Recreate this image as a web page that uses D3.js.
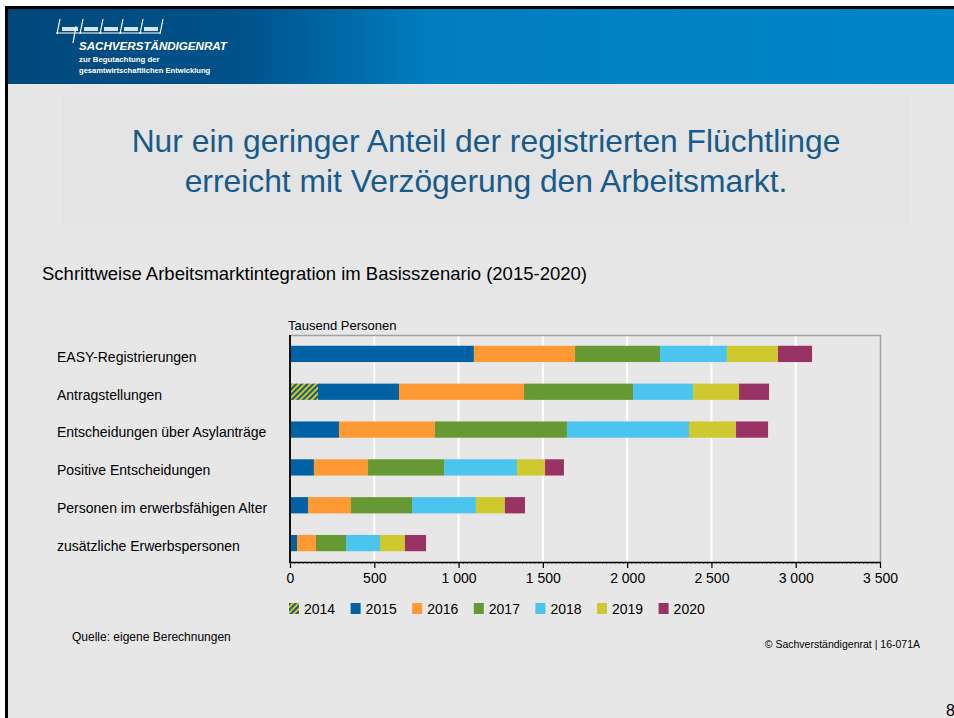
<!DOCTYPE html>
<html>
<head>
<meta charset="utf-8">
<script src="https://cdn.jsdelivr.net/npm/d3@7"></script>
<style>
  html, body { margin: 0; padding: 0; background: #ffffff; }
  svg { display: block; }
</style>
</head>
<body>
<svg id="slide" width="954" height="718"></svg>
<script>
// data (Tausend Personen)
const categories = [
  "EASY-Registrierungen",
  "Antragstellungen",
  "Entscheidungen über Asylanträge",
  "Positive Entscheidungen",
  "Personen im erwerbsfähigen Alter",
  "zusätzliche Erwerbspersonen"
];
const years = ["2014", "2015", "2016", "2017", "2018", "2019", "2020"];
const v2014 = [0, 166, 0, 0, 0, 0];
const v2015 = [1091, 481, 291, 142, 107, 42];
const v2016 = [600, 741, 569, 321, 255, 112];
const v2017 = [504, 647, 783, 451, 362, 178];
const v2018 = [397, 356, 724, 433, 379, 202];
const v2019 = [303, 273, 279, 166, 172, 148];
const v2020 = [202, 178, 190, 112, 119, 125];
const xTicks = [0, 500, 1000, 1500, 2000, 2500, 3000, 3500];

const colors = {
  "2014": "url(#hatch)", "2015": "#0062a5", "2016": "#ff9933", "2017": "#669933",
  "2018": "#4cc4f0", "2019": "#cdc92f", "2020": "#993366"
};

const series = [v2014, v2015, v2016, v2017, v2018, v2019, v2020];
const rows = categories.map((c, i) => {
  const r = { cat: c };
  years.forEach((y, j) => r[y] = series[j][i]);
  return r;
});

const svg = d3.select("#slide");
const narrow = "'Liberation Sans Narrow', 'Arial Narrow', 'Liberation Sans', sans-serif";
const sans = "'Liberation Sans', Arial, sans-serif";

const defs = svg.append("defs");
const grad = defs.append("linearGradient").attr("id", "hdr").attr("x1", 0).attr("x2", 1);
grad.append("stop").attr("offset", "0%").attr("stop-color", "#00487a");
grad.append("stop").attr("offset", "25%").attr("stop-color", "#00528b");
grad.append("stop").attr("offset", "45%").attr("stop-color", "#007fc0");
grad.append("stop").attr("offset", "100%").attr("stop-color", "#0085c8");

const pat = defs.append("pattern").attr("id", "hatch")
  .attr("patternUnits", "userSpaceOnUse").attr("width", 4).attr("height", 4)
  .attr("patternTransform", "rotate(45)");
pat.append("rect").attr("width", 4).attr("height", 4).attr("fill", "#e8c000");
pat.append("rect").attr("width", 2).attr("height", 4).attr("fill", "#0062a5");

// slide background + frame
svg.append("rect").attr("x", 5).attr("y", 6).attr("width", 949).attr("height", 712).attr("fill", "#000");
svg.append("rect").attr("x", 8).attr("y", 9).attr("width", 946).attr("height", 709).attr("fill", "#e7e7e7");
svg.append("rect").attr("x", 8).attr("y", 9).attr("width", 946).attr("height", 75).attr("fill", "url(#hdr)");
svg.append("rect").attr("x", 62).attr("y", 96).attr("width", 848).attr("height", 127).attr("fill", "#e4e4e4");

// logo
const logo = svg.append("g").attr("stroke", "#fff").attr("fill", "none").attr("stroke-width", 1.2);
logo.append("line").attr("x1", 56).attr("x2", 160).attr("y1", 33).attr("y2", 33);
[57, 80, 100, 120, 140, 160].forEach(x => {
  logo.append("line").attr("x1", x + 3).attr("y1", 19).attr("x2", x).attr("y2", 34);
});
logo.append("line").attr("x1", 76).attr("y1", 26).attr("x2", 73).attr("y2", 43);
[[62, 78], [84, 98], [104, 118], [124, 138], [144, 158]].forEach(([a, b]) => {
  logo.append("rect").attr("x", a).attr("y", 27).attr("width", b - a).attr("height", 4)
    .attr("fill", "#fff").attr("stroke", "none").attr("opacity", 0.85);
});
svg.append("text").attr("x", 79).attr("y", 50).text("SACHVERSTÄNDIGENRAT")
  .attr("fill", "#fff").attr("font-family", sans).attr("font-weight", "bold")
  .attr("font-style", "italic").attr("font-size", 11.6);
svg.append("text").attr("x", 79).attr("y", 62).text("zur Begutachtung der")
  .attr("fill", "#fff").attr("font-family", narrow).attr("font-weight", "bold").attr("font-size", 7.8);
svg.append("text").attr("x", 79).attr("y", 73).text("gesamtwirtschaftlichen Entwicklung")
  .attr("fill", "#fff").attr("font-family", narrow).attr("font-weight", "bold").attr("font-size", 7.6);

// title
const title = svg.append("text").attr("text-anchor", "middle")
  .attr("font-family", sans).attr("font-size", 31.8).attr("fill", "#175a8b");
title.append("tspan").attr("x", 486).attr("y", 152).text("Nur ein geringer Anteil der registrierten Flüchtlinge");
title.append("tspan").attr("x", 486).attr("y", 192).text("erreicht mit Verzögerung den Arbeitsmarkt.");

svg.append("text").attr("x", 42).attr("y", 280)
  .attr("font-family", narrow).attr("font-size", 18.5).attr("fill", "#000")
  .text("Schrittweise Arbeitsmarktintegration im Basisszenario (2015-2020)");

// chart
const x = d3.scaleLinear().domain([0, 3500]).range([290, 880]);
const y = d3.scaleBand().domain(categories).range([335, 562]).paddingInner(0.57).paddingOuter(0.285);
const fmt = d3.formatLocale({ decimal: ",", thousands: " ", grouping: [3], currency: ["", "€"] }).format(",d");

svg.append("text").attr("x", 288).attr("y", 330)
  .attr("font-family", narrow).attr("font-size", 13).attr("fill", "#000").text("Tausend Personen");

svg.append("g").selectAll("line").data(xTicks.slice(1, -1)).join("line")
  .attr("x1", d => x(d)).attr("x2", d => x(d)).attr("y1", 335).attr("y2", 562)
  .attr("stroke", "#ffffff").attr("stroke-width", 2);

svg.append("path").attr("d", `M290,335.5H880.5V562`).attr("fill", "none")
  .attr("stroke", "#a0a0a0").attr("stroke-width", 1.5);

const stacked = d3.stack().keys(years)(rows);
svg.append("g").selectAll("g").data(stacked).join("g")
  .attr("fill", d => colors[d.key])
  .selectAll("rect").data(d => d).join("rect")
  .attr("x", d => x(d[0])).attr("width", d => x(d[1]) - x(d[0]))
  .attr("y", d => y(d.data.cat)).attr("height", y.bandwidth());

// category labels
svg.append("g").selectAll("text").data(categories).join("text")
  .attr("x", 57).attr("y", d => y(d) + y.bandwidth() / 2 + 3).attr("dy", "0.35em")
  .attr("font-family", sans).attr("font-size", 14).attr("fill", "#000").text(d => d);

// x axis
const minor = d3.range(0, 3501, 25);
svg.append("g").attr("transform", "translate(0,562)")
  .call(d3.axisBottom(x).tickValues(minor).tickSize(2).tickFormat(""))
  .call(g => g.select(".domain").remove())
  .call(g => g.selectAll("line").attr("stroke", "#000").attr("stroke-width", 0.6));
const xAxis = svg.append("g").attr("transform", "translate(0,562)")
  .call(d3.axisBottom(x).tickValues(xTicks).tickSize(6).tickSizeOuter(0).tickPadding(5).tickFormat(fmt));
xAxis.select(".domain").attr("stroke", "#000").attr("stroke-width", 1.5);
xAxis.selectAll("line").attr("stroke", "#000").attr("stroke-width", 1.2);
xAxis.selectAll("text").attr("font-family", narrow).attr("font-size", 14).attr("fill", "#000");

svg.append("line").attr("x1", 290).attr("x2", 290).attr("y1", 335).attr("y2", 563)
  .attr("stroke", "#111").attr("stroke-width", 2);

// legend
const leg = svg.append("g").selectAll("g").data(years).join("g")
  .attr("transform", (d, i) => `translate(${289 + i * 61.6},603)`);
leg.append("rect").attr("width", 10).attr("height", 11).attr("fill", d => colors[d]);
leg.append("text").attr("x", 15).attr("y", 10.5)
  .attr("font-family", sans).attr("font-size", 14).attr("fill", "#000").text(d => d);

// footer
svg.append("text").attr("x", 72).attr("y", 641)
  .attr("font-family", narrow).attr("font-size", 12).attr("fill", "#000").text("Quelle: eigene Berechnungen");
svg.append("text").attr("x", 920).attr("y", 648).attr("text-anchor", "end")
  .attr("font-family", narrow).attr("font-size", 10.5).attr("fill", "#000").text("© Sachverständigenrat | 16-071A");
svg.append("text").attr("x", 946).attr("y", 716)
  .attr("font-family", sans).attr("font-size", 16).attr("fill", "#000").text("8");
</script>
</body>
</html>
